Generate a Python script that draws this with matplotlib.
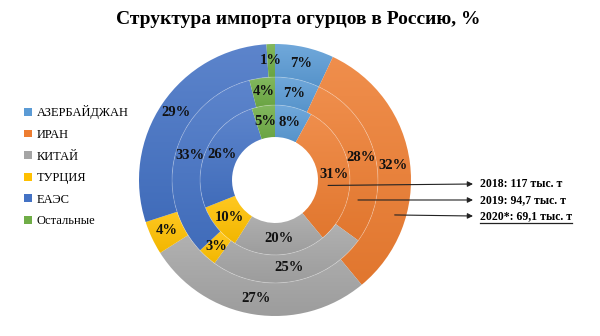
import numpy as np
import matplotlib
matplotlib.use("Agg")
import matplotlib.pyplot as plt
from matplotlib.colors import LinearSegmentedColormap, to_rgb
from matplotlib.patches import Patch, Circle
from matplotlib.lines import Line2D

plt.rcParams["font.family"] = ["Liberation Serif", "DejaVu Serif"]

countries = ["АЗЕРБАЙДЖАН", "ИРАН", "КИТАЙ", "ТУРЦИЯ", "ЕАЭС", "Остальные"]
share_2018 = [8, 31, 20, 10, 26, 5]
share_2019 = [7, 28, 25, 3, 33, 4]
share_2020 = [7, 32, 27, 4, 29, 1]
volume_labels = ["2018: 117 тыс. т", "2019: 94,7 тыс. т", "2020*: 69,1 тыс. т"]
colors = ["#5B9BD5", "#ED7D31", "#A5A5A5", "#FFC000", "#4472C4", "#70AD47"]

# ring geometry (outer radius, width), inner ring first
rings = [(0.551, 0.235), (0.757, 0.206), (1.0, 0.243)]

W, H = 600, 336
fig = plt.figure(figsize=(6, 3.36), dpi=100)
cx, cy, R = 275, 180, 136
ax = fig.add_axes([(cx - R) / W, (H - cy - R) / H, 2 * R / W, 2 * R / H])


def shade(c, k):
    r = np.array(to_rgb(c))
    return tuple(r + (1 - r) * k) if k > 0 else tuple(r * (1 + k))


for shares, (radius, width) in zip([share_2018, share_2019, share_2020], rings):
    wedges, _, autotexts = ax.pie(
        shares, radius=radius, startangle=90, counterclock=False,
        colors=colors, autopct=lambda p: f"{p:.0f}%",
        pctdistance=(radius - width / 2) / radius,
        wedgeprops=dict(width=width, linewidth=0),
        textprops=dict(fontsize=10.5, fontweight="bold", color="#111111"),
    )
    # vertical gradient inside each segment
    for w, c in zip(wedges, colors):
        ext = w.get_path().get_extents()
        cmap = LinearSegmentedColormap.from_list("g", [shade(c, 0.13), shade(c, -0.05)])
        im = ax.imshow(np.linspace(0, 1, 64).reshape(-1, 1), cmap=cmap,
                       extent=[ext.x0, ext.x1, ext.y0, ext.y1], origin="upper",
                       aspect="auto", zorder=0.5, interpolation="bilinear")
        im.set_clip_path(w)
        w.set_facecolor("none")
    for t in autotexts:
        t.set_zorder(5)

for radius, width in rings[1:]:
    ax.add_patch(Circle((0, 0), radius - width, fill=False,
                        ec=(1, 1, 1, 0.25), lw=0.6, zorder=2))

ax.set_xlim(-1, 1)
ax.set_ylim(-1, 1)
ax.set_aspect("equal")
ax.axis("off")

fig.text(0.497, 1 - 20 / H, "Структура импорта огурцов в Россию, %",
         ha="center", va="center", fontsize=14, fontweight="bold")

handles = [Patch(facecolor=c, edgecolor="none") for c in colors]
fig.legend(handles, countries, loc="upper left", bbox_to_anchor=(0.03, 1 - 99 / H),
           frameon=False, fontsize=9, handlelength=0.6, handleheight=0.6,
           handletextpad=0.4, labelspacing=0.77, borderpad=0)

# arrows from each ring to its volume label
starts = [(0.39, -0.04), (0.61, -0.147), (0.88, -0.257)]
text_y = [184, 200, 216]
texts = []
for lab, (sx, sy), ty in zip(volume_labels, starts, text_y):
    ax.annotate("", xy=(473, H - ty), xycoords="figure pixels",
                xytext=(sx, sy), textcoords="data",
                arrowprops=dict(arrowstyle="-|>", color="#222222", lw=0.8,
                                mutation_scale=8, shrinkA=0, shrinkB=0),
                zorder=6)
    texts.append(fig.text(480 / W, 1 - ty / H, lab, ha="left", va="center",
                          fontsize=8.5, fontweight="bold"))

fig.canvas.draw()
bb = texts[-1].get_window_extent()
fig.add_artist(Line2D([bb.x0 / W, bb.x1 / W], [(bb.y0 - 1) / H] * 2,
                      transform=fig.transFigure, color="#222222", lw=0.9))

fig.savefig("out.png", dpi=100)
